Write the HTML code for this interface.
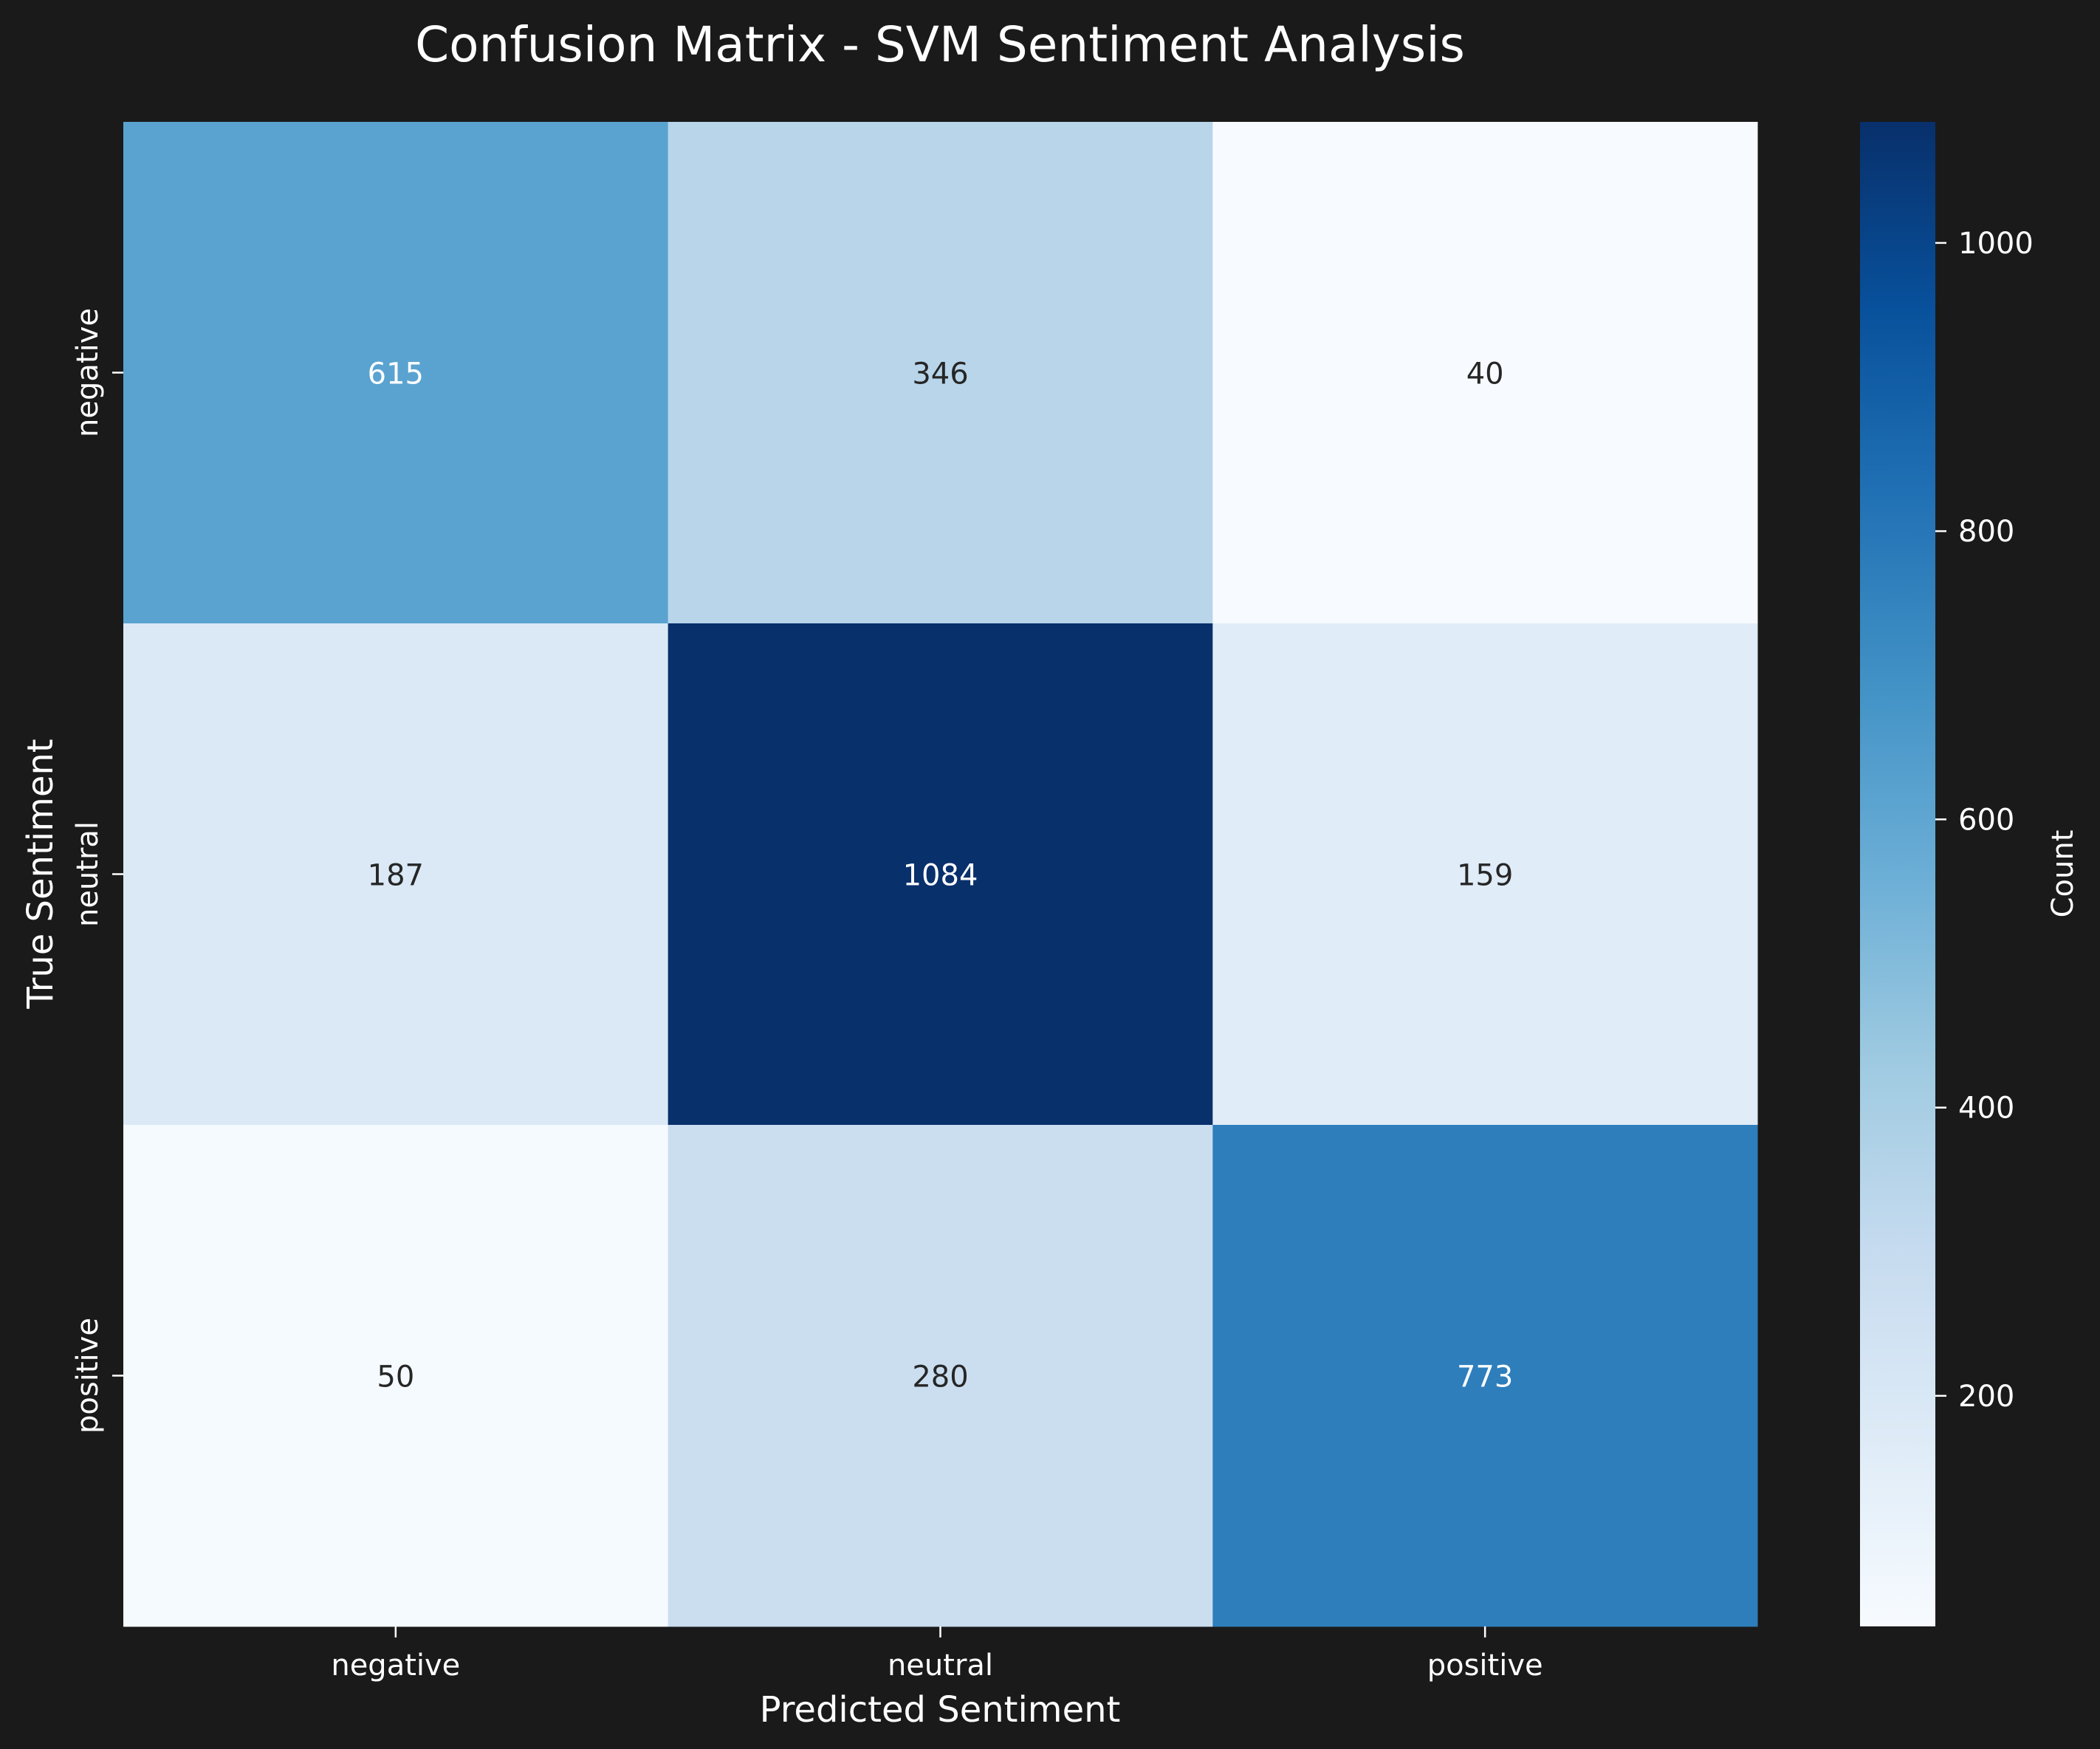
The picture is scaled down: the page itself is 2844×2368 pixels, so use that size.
<!DOCTYPE html>
<html><head><meta charset="utf-8"><style>
html,body{margin:0;padding:0;background:#1a1a1a;}
svg{display:block;font-family:"DejaVu Sans","Liberation Sans",sans-serif;}
</style></head><body>
<svg id="chart" width="2844" height="2368" viewBox="0 0 2844 2368">
<rect x="0" y="0" width="2844" height="2368" fill="#1a1a1a"/>
<text x="1273" y="83" fill="#ffffff" font-size="66" text-anchor="middle">Confusion Matrix - SVM Sentiment Analysis</text>
<defs>
<linearGradient id="blues" x1="0" y1="1" x2="0" y2="0">
<stop offset="0" stop-color="#f7fbff"/><stop offset="0.125" stop-color="#deebf7"/><stop offset="0.25" stop-color="#c6dbef"/><stop offset="0.375" stop-color="#9ecae1"/><stop offset="0.5" stop-color="#6baed6"/><stop offset="0.625" stop-color="#4292c6"/><stop offset="0.75" stop-color="#2171b5"/><stop offset="0.875" stop-color="#08519c"/><stop offset="1" stop-color="#08306b"/>
</linearGradient>
</defs>
<g id="cells"></g>
<g id="axes"></g>
<rect x="2519" y="165" width="102" height="2037" fill="url(#blues)"/>
<g id="cbar"></g>
<text x="1273" y="2331" fill="#ffffff" font-size="48" text-anchor="middle">Predicted Sentiment</text>
<text transform="translate(71,1183) rotate(-90)" fill="#ffffff" font-size="48" text-anchor="middle">True Sentiment</text>
<text transform="translate(2807,1183) rotate(-90)" fill="#ffffff" font-size="40" text-anchor="middle">Count</text>
</svg>
<script>
const categories = ["negative", "neutral", "positive"];
const rowNeg = [615, 346, 40];
const rowNeu = [187, 1084, 159];
const rowPos = [50, 280, 773];
const cbTicks = [200, 400, 600, 800, 1000];

const matrix = [rowNeg, rowNeu, rowPos];
const NS = "http://www.w3.org/2000/svg";
const L = 167, R = 2380, T = 165, B = 2202;
const all = matrix.flat();
const vmin = Math.min(...all), vmax = Math.max(...all);
const cw = (R - L) / categories.length, ch = (B - T) / categories.length;
const xPos = i => L + i * cw;
const yPos = i => T + i * ch;
const stops = ["#f7fbff","#deebf7","#c6dbef","#9ecae1","#6baed6","#4292c6","#2171b5","#08519c","#08306b"];
function hex(h){return [1,3,5].map(k=>parseInt(h.substr(k,2),16));}
function color(v){
  let t = (v - vmin) / (vmax - vmin); t = Math.max(0, Math.min(1, t));
  const p = t * (stops.length - 1), i = Math.min(Math.floor(p), stops.length - 2), f = p - i;
  const a = hex(stops[i]), b = hex(stops[i+1]);
  return "rgb(" + a.map((c,k)=>Math.round(c + (b[k]-c)*f)).join(",") + ")";
}
function mk(tag, attrs, parent, text){
  const e = document.createElementNS(NS, tag);
  for (const k in attrs) e.setAttribute(k, attrs[k]);
  if (text !== undefined) e.textContent = text;
  parent.appendChild(e); return e;
}
const cells = document.getElementById("cells");
matrix.forEach((row, r) => row.forEach((v, c) => {
  const rect = mk("rect", {x: xPos(c), y: yPos(r), width: cw + 0.5, height: ch + 0.5, fill: color(v)}, cells);
  
  
  const t = (v - vmin) / (vmax - vmin);
  const txt = mk("text", {x: xPos(c) + cw/2, y: yPos(r) + ch/2 + 15, "font-size": 40, "text-anchor": "middle", fill: t > 0.5 ? "#ffffff" : "#262626"}, cells, String(v));
  
  
}));
const axes = document.getElementById("axes");
categories.forEach((cat, i) => {
  const cx = xPos(i) + cw/2;
  mk("line", {x1: cx, x2: cx, y1: B, y2: B + 15, stroke: "#ffffff", "stroke-width": 2.5}, axes);
  const xt = mk("text", {x: cx, y: 2268, "font-size": 40, "text-anchor": "middle", fill: "#ffffff"}, axes, cat);
  
  
  const cy = yPos(i) + ch/2;
  mk("line", {x1: L - 15, x2: L, y1: cy, y2: cy, stroke: "#ffffff", "stroke-width": 2.5}, axes);
  const yt = mk("text", {transform: "translate(132," + cy + ") rotate(-90)", "font-size": 40, "text-anchor": "middle", fill: "#ffffff"}, axes, cat);
  
  
});
const cbar = document.getElementById("cbar");
const cbY = v => B - (v - vmin) / (vmax - vmin) * (B - T);
cbTicks.forEach(v => {
  const y = cbY(v);
  mk("line", {x1: 2621, x2: 2636, y1: y, y2: y, stroke: "#ffffff", "stroke-width": 2.5}, cbar);
  const t = mk("text", {x: 2652, y: y + 14, "font-size": 40, fill: "#ffffff"}, cbar, String(v));
  
  
});
</script>
</body></html>
